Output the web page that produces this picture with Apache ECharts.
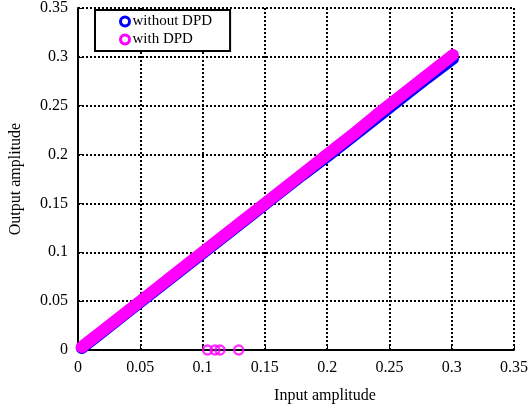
<!DOCTYPE html>
<html>
<head>
<meta charset="utf-8">
<script src="https://cdn.jsdelivr.net/npm/echarts@6/dist/echarts.min.js"></script>
<style>
  html, body { margin: 0; padding: 0; background: #fff; }
  #main { width: 531px; height: 410px; }
</style>
</head>
<body>
<div id="main"></div>
<script>
// values
var inputAmp = [0.003, 0.02, 0.04, 0.06, 0.08, 0.1, 0.12, 0.14, 0.16, 0.18, 0.2, 0.22, 0.24, 0.26, 0.28, 0.301]
var withoutDPD = [0.002, 0.019, 0.039, 0.059, 0.079, 0.099, 0.119, 0.139, 0.159, 0.179, 0.198, 0.218, 0.238, 0.258, 0.278, 0.298]
var withDPD = [0.003, 0.02, 0.04, 0.06, 0.08, 0.1, 0.12, 0.14, 0.16, 0.18, 0.2, 0.22, 0.241, 0.261, 0.281, 0.302]
var strayX = [0.104, 0.11, 0.114, 0.129]
var strayY = [0, 0, 0, 0]
var tickLabels = ['0', '0.05', '0.1', '0.15', '0.2', '0.25', '0.3', '0.35']

function pairs (xs, ys) {
  return xs.map(function (x, i) { return [x, ys[i]] })
}

var serif = '"Liberation Serif", "Times New Roman", serif'

function axis (name, nameGap, namePad) {
  return {
    type: 'value',
    min: 0,
    max: 0.35,
    interval: 0.05,
    name: name,
    nameLocation: 'middle',
    nameGap: nameGap,
    nameTextStyle: { fontFamily: serif, fontSize: 16, color: '#000', padding: namePad },
    axisLine: { onZero: false, lineStyle: { color: '#000', width: 2 } },
    axisTick: { inside: true, length: 4, lineStyle: { color: '#000' } },
    axisLabel: {
      fontFamily: serif, fontSize: 16, color: '#000', margin: 10,
      formatter: function (v) { return tickLabels[Math.round(v / 0.05)] }
    },
    splitLine: { show: true, lineStyle: { color: '#000', type: [2, 2], width: 2 } }
  }
}

var myChart = echarts.init(document.getElementById('main'))
myChart.setOption({
  animation: false,
  backgroundColor: '#fff',
  grid: { left: 78, right: 12, top: 7, bottom: 60 },
  xAxis: axis('Input amplitude', 38, [0, 0, 0, 58]),
  yAxis: axis('Output amplitude', 54, 0),
  legend: {
    left: 95,
    top: 10,
    orient: 'vertical',
    backgroundColor: '#fff',
    borderColor: '#000',
    borderWidth: 2,
    borderRadius: 0,
    padding: [4, 18, 4, 24],
    itemGap: 3,
    itemWidth: 11,
    itemHeight: 9,
    textStyle: { fontFamily: serif, fontSize: 15, color: '#000', padding: [2, 0, 0, -3] },
    data: [
      { name: 'without DPD', icon: 'circle', itemStyle: { color: '#fff', borderColor: '#0000ff', borderWidth: 3 } },
      { name: 'with DPD', icon: 'circle', itemStyle: { color: '#fff', borderColor: '#ff00ff', borderWidth: 3 } }
    ]
  },
  series: [
    {
      name: 'without DPD',
      type: 'line',
      data: pairs(inputAmp, withoutDPD),
      showSymbol: false,
      itemStyle: { color: '#0000ff' },
      lineStyle: { color: '#0000ff', width: 12, cap: 'round', join: 'round' }
    },
    {
      name: 'with DPD',
      type: 'line',
      data: pairs(inputAmp, withDPD),
      showSymbol: false,
      itemStyle: { color: '#ff00ff' },
      lineStyle: { color: '#ff00ff', width: 12, cap: 'round', join: 'round' }
    },
    {
      name: 'with DPD',
      type: 'scatter',
      data: pairs(strayX, strayY),
      symbol: 'circle',
      symbolSize: 9,
      itemStyle: { color: 'transparent', borderColor: '#ff00ff', borderWidth: 2.5 },
      z: 5
    }
  ]
})
</script>
</body>
</html>
